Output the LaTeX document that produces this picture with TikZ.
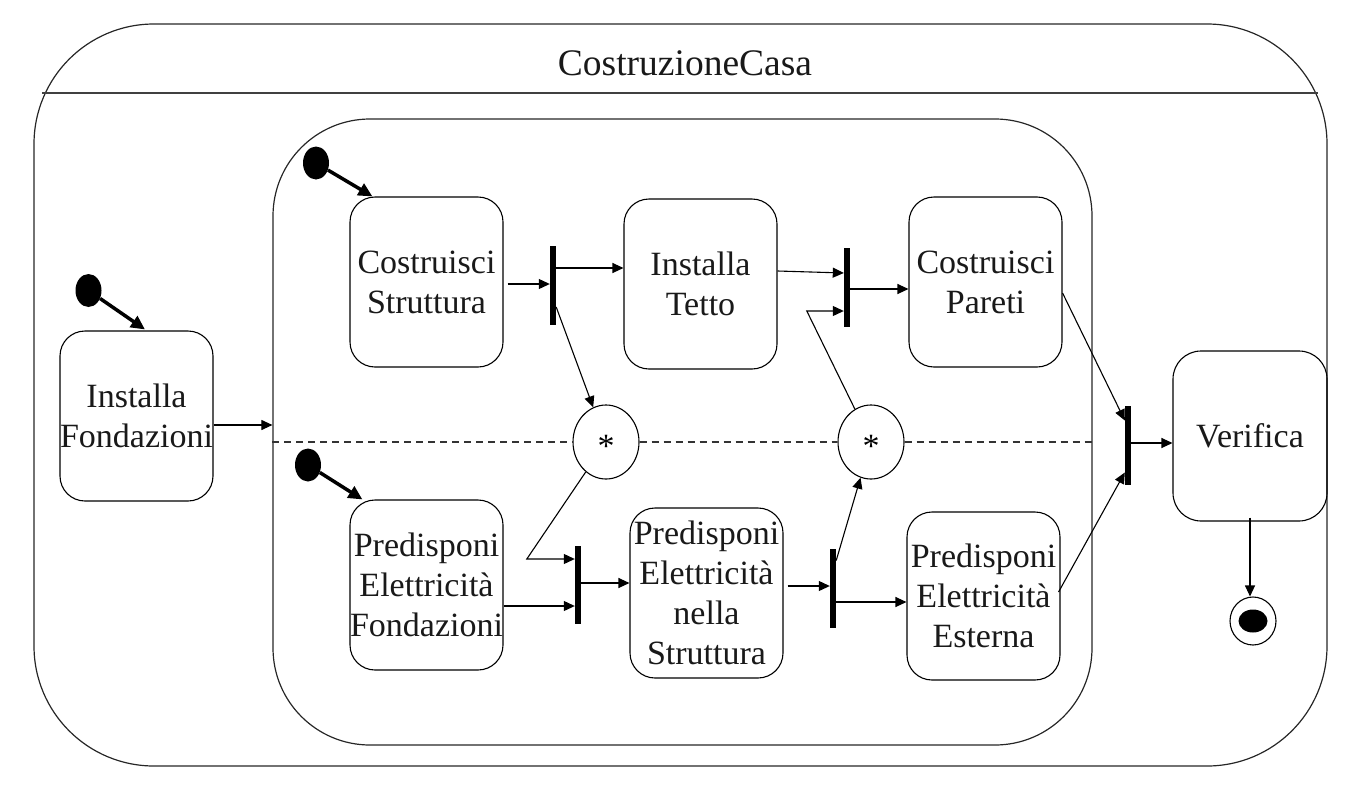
\documentclass[tikz,border=0pt]{standalone}
\usepackage{fontspec}
\setmainfont{Liberation Serif}
\usetikzlibrary{arrows.meta,shapes.geometric,calc}
\tikzset{
  frame/.style={draw=black!85, line width=1.2pt, inner sep=0pt},
  box/.style={draw, rounded corners=25pt, minimum width=153pt, minimum height=170pt,
    inner sep=0pt, align=center, line width=1.1pt, text=black!90,
    font=\fontsize{34}{40}\selectfont},
  bar/.style={fill=black, minimum width=6pt, minimum height=79pt, inner sep=0pt},
  starc/.style={draw, ellipse, minimum width=66pt, minimum height=74pt, inner sep=0pt, line width=1.1pt},
  startxt/.style={inner sep=0pt, font=\fontsize{34}{40}\selectfont},
  initdot/.style={fill=black, ellipse, minimum width=26pt, minimum height=33pt, inner sep=0pt},
  flow/.style={line width=1.1pt, -{Triangle[length=11pt,width=10pt]}},
  initflow/.style={line width=3.5pt, -{Triangle[length=14pt,width=13pt]}},
  dashline/.style={line width=1.1pt, black!80, dash pattern=on 7pt off 5pt},
}
\begin{document}
\begin{tikzpicture}[x=1pt,y=-1pt]
\useasboundingbox (0,0) rectangle (1370,790);
% frames
\node[frame, rounded corners=120pt, minimum width=1293pt, minimum height=742pt] (outer) at (680.5,395) {};
\coordinate (sepL) at (42,93);
\coordinate (sepR) at (1318,93);
\draw[black!75, line width=1.3pt] (sepL) -- (sepR);
\node[anchor=base, inner sep=0pt, text=black!90, font=\fontsize{37.5}{44}\selectfont] (title) at (685,75) {CostruzioneCasa};
\node[frame, rounded corners=97pt, minimum width=819pt, minimum height=626pt] (inner) at (682.5,432) {};

% states
\node[box] (fond) at (136.5,416) {Installa\\Fondazioni};
\node[box] (cs) at (426.5,282) {Costruisci\\Struttura};
\node[box] (it) at (700.5,284) {Installa\\Tetto};
\node[box] (cp) at (985.5,282) {Costruisci\\Pareti};
\node[box] (pef) at (426.5,585) {Predisponi\\Elettricità\\Fondazioni};
\node[box] (pens) at (706.5,593) {Predisponi\\Elettricità\\nella\\Struttura};
\node[box, minimum height=168pt] (pee) at (983.5,596) {Predisponi\\Elettricità\\Esterna};
\node[box, rounded corners=28pt, minimum width=154pt] (ver) at (1250,436) {Verifica};

% bars
\node[bar] (bar1) at (553,285.5) {};
\node[bar, minimum height=78pt] (bar2) at (578,585) {};
\node[bar] (bar3) at (833,588.5) {};
\node[bar] (bar4) at (847,287.5) {};
\node[bar] (bar5) at (1128,445.5) {};

% circles with asterisk
\node[starc] (c1) at (606,442) {};
\node[startxt] (s1) at (606,446.5) {*};
\node[starc] (c2) at (871,442) {};
\node[startxt] (s2) at (871,446.5) {*};

% initial and final
\node[initdot] (i0) at (88.5,290.5) {};
\node[initdot] (i1) at (316,163) {};
\node[initdot] (i2) at (308,465) {};
\node[draw, ellipse, minimum width=46pt, minimum height=48pt, inner sep=0pt, line width=1.1pt] (fin) at (1253,621) {};
\node[fill=black, ellipse, minimum width=29pt, minimum height=23pt, inner sep=0pt] (finin) at (fin) {};

% dashed concurrency separator
\draw[dashline] (inner.west |- c1) -- (c1.west);
\draw[dashline] (c1.east) -- (c2.west);
\draw[dashline] (c2.east) -- (inner.east |- c2);

% initial transitions
\draw[initflow] (i0) -- ($(fond.north)+(8.5,-1)$);
\draw[initflow] (i1) -- ($(cs.north west)+(23,0)$);
\draw[initflow] (i2) -- ($(pef.north west)+(13,0)$);

% connector end points
\coordinate (pFond) at ($(fond.east)+(0,9)$);
\coordinate (pCs) at ($(cs.east)+(4,2)$);
\coordinate (pB1a) at ($(bar1.east)+(0,-17.5)$);
\coordinate (pB1b) at ($(bar1.east)+(0,21.5)$);
\coordinate (k1) at ($(bar2.west)+(-48,-26)$);
\coordinate (pPef) at ($(pef.east)+(0,21)$);
\coordinate (pB2) at ($(bar2.east)+(0,-2)$);
\coordinate (pPens) at ($(pens.east)+(4,-7)$);
\coordinate (pB3a) at ($(bar3.east)+(0,-28)$);
\coordinate (pB3b) at ($(bar3.east)+(0,13.5)$);
\coordinate (k2) at ($(bar4.west)+(-37,23.5)$);
\coordinate (pIt) at ($(it.east)+(0,-13)$);
\coordinate (qB4) at ($(bar4.west)+(0,-14.5)$);
\coordinate (pB4) at ($(bar4.east)+(0,1.5)$);
\coordinate (pCp) at ($(cp.east)+(0,11)$);
\coordinate (qB5a) at ($(bar5.west)+(0,-25)$);
\coordinate (pPee) at ($(pee.east)+(-2,-4)$);
\coordinate (qB5b) at ($(bar5.west)+(0,27)$);
\coordinate (pB5) at ($(bar5.east)+(0,-2.5)$);
\coordinate (pVer) at ($(ver.south)+(0,-4)$);

% transitions
\draw[flow] (pFond) -- (pFond -| inner.west);
\draw[flow] (pCs) -- (pCs -| bar1.west);
\draw[flow] (pB1a) -- (pB1a -| it.west);
\draw[flow] (pB1b) -- (c1);
\draw[flow] (c1) -- (k1) -- (k1 -| bar2.west);
\draw[flow] (pPef) -- (pPef -| bar2.west);
\draw[flow] (pB2) -- (pB2 -| pens.west);
\draw[flow] (pPens) -- (pPens -| bar3.west);
\draw[flow] (pB3a) -- (c2);
\draw[flow] (pB3b) -- (pB3b -| pee.west);
\draw[flow] (c2) -- (k2) -- (k2 -| bar4.west);
\draw[flow] (pIt) -- (qB4);
\draw[flow] (pB4) -- (pB4 -| cp.west);
\draw[flow] (pCp) -- (qB5a);
\draw[flow] (pPee) -- (qB5b);
\draw[flow] (pB5) -- (pB5 -| ver.west);
\draw[flow] (pVer) -- (pVer |- fin.north);
\end{tikzpicture}
\end{document}
